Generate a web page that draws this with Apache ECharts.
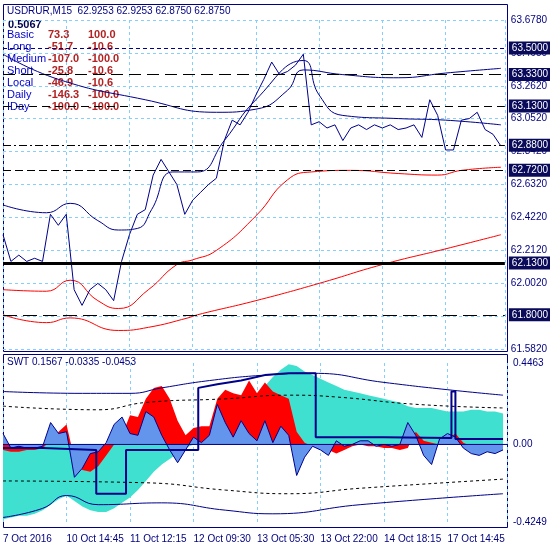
<!DOCTYPE html>
<html>
<head>
<meta charset="utf-8">
<script src="https://cdn.jsdelivr.net/npm/echarts@6/dist/echarts.min.js"></script>
<style>html,body{margin:0;padding:0;background:#fff}#main{width:550px;height:550px}</style>
</head>
<body>
<div id="main"></div>
<script>
// time labels every 8 bars
let timeLabels = ['7 Oct 2016', '10 Oct 14:45', '11 Oct 12:15', '12 Oct 09:30', '13 Oct 05:30', '13 Oct 22:00', '14 Oct 18:15', '17 Oct 14:45']
let priceTicks = ['61.5820', '61.7920', '62.0020', '62.2120', '62.4220', '62.6320', '62.8420', '63.0520', '63.2620', '63.4650', '63.6780']

let price = [62.31, 62.14, 62.18, 62.14, 62.16, 62.14, 62.44, 62.37, 62.44, 61.96, 61.86, 61.96, 62.00, 61.96, 61.89, 62.14,
  62.31, 62.44, 62.47, 62.69, 62.79, 62.71, 62.63, 62.44, 62.53, 62.58, 62.63, 62.67, 62.91, 63.04, 63.01, 63.09,
  63.20, 63.30, 63.41, 63.33, 63.35, 63.39, 63.46, 63.01, 63.03, 62.99, 63.01, 62.91, 62.99, 63.01, 62.98, 63.01,
  62.99, 63.01, 62.98, 62.99, 63.01, 62.93, 63.17, 63.07, 62.85, 62.85, 63.04, 63.05, 63.09, 62.98, 62.95, 62.875]
let maRedFast = [[0, 61.96], [5.5, 61.95], [8.5, 62.02], [12, 61.89], [14.6, 61.84], [18.4, 61.96], [22, 62.12], [24, 62.15], [27, 62.21], [32, 62.43], [36, 62.66], [39, 62.71], [44, 62.72], [50, 62.70], [55, 62.69], [58, 62.72], [63, 62.74]]
let maRedSlow = [[0, 61.80], [5.5, 61.75], [8.5, 61.78], [14.6, 61.70], [18.4, 61.72], [23.4, 61.78], [24.6, 61.80], [32, 61.89], [40, 62.00], [48, 62.12], [56, 62.22], [63, 62.31]]
let maBlueSlow = [[0, 63.46], [7, 63.30], [18, 63.17], [27, 63.09], [32, 63.11], [36, 63.23], [38, 63.36], [43, 63.33], [50, 63.31], [56, 63.34], [63, 63.37]]
let maBlueFast = [[0, 62.50], [5.5, 62.45], [8.5, 62.51], [12, 62.40], [14.6, 62.34], [17, 62.35], [18.8, 62.47], [21.5, 62.71], [24.6, 62.71], [28, 62.91], [32, 63.17], [38, 63.42], [40, 63.20], [43, 63.07], [50, 63.05], [56, 63.04], [63, 63.01]]
let levels = [
  [63.50, '#00008b', [4, 3], 1],
  [63.33, '#000', [12, 6], 1],
  [63.13, '#000', [8, 5], 1],
  [62.88, '#000', [8, 3, 2, 3], 1],
  [62.72, '#000', [8, 4], 1],
  [62.13, '#000', 'solid', 3],
  [61.80, '#000', [14, 6], 1]
]

let swtRed = [-0.03, -0.04, -0.04, -0.03, -0.03, -0.02, 0.02, 0.07, 0.11, -0.08, -0.14, -0.15, -0.12, -0.06, 0.00, 0.05,
  0.16, 0.15, 0.25, 0.31, 0.32, 0.25, 0.13, 0.05, 0.09, 0.10, 0.10, 0.25, 0.30, 0.28, 0.27, 0.35,
  0.28, 0.34, 0.29, 0.27, 0.25, 0.07, 0.01, -0.01, -0.02, -0.03, -0.05, -0.03, -0.01, 0.00, -0.01, -0.01,
  -0.02, -0.02, -0.03, -0.02, 0.07, 0.02, 0.01, 0.00, 0.03, 0.06, 0.01, -0.01, -0.01, -0.02, -0.02, -0.02]
let swtBlue = [0.06, -0.02, -0.01, -0.02, -0.02, -0.01, 0.12, 0.06, 0.07, -0.18, -0.13, -0.05, -0.04, 0.01, 0.11, 0.15,
  0.06, 0.05, 0.18, 0.15, 0.05, -0.03, -0.10, -0.03, 0.04, 0.01, 0.05, 0.22, 0.12, 0.04, 0.13, 0.06,
  0.02, 0.13, 0.01, 0.10, 0.05, -0.17, -0.07, -0.01, -0.03, -0.06, 0.02, -0.01, 0.00, 0.02, 0.02, -0.01,
  0.00, -0.01, 0.00, 0.12, 0.05, -0.06, -0.11, 0.03, 0.06, 0.04, -0.02, -0.05, -0.06, -0.04, -0.05, -0.03]
let swtCyan = [-0.41, -0.40, -0.39, -0.39, -0.38, -0.36, -0.33, -0.30, -0.28, -0.31, -0.34, -0.36, -0.37, -0.37, -0.35, -0.32,
  -0.29, -0.25, -0.20, -0.15, -0.11, -0.08, -0.05, -0.02, 0.00, 0.02, 0.04, 0.09, 0.13, 0.17, 0.21, 0.25,
  0.28, 0.32, 0.37, 0.41, 0.44, 0.43, 0.40, 0.38, 0.36, 0.34, 0.32, 0.30, 0.29, 0.28, 0.27, 0.26,
  0.25, 0.24, 0.23, 0.21, 0.20, 0.20, 0.20, 0.19, 0.18, 0.18, 0.18, 0.19, 0.19, 0.18, 0.18, 0.17]
let swtStep = [[0, -0.02], [5, -0.02], [5, -0.03], [11.75, -0.03], [11.75, -0.27], [15.5, -0.27], [15.5, -0.03], [24.6, -0.03],
  [24.6, 0.31], [27, 0.33], [30, 0.35], [33, 0.38], [36, 0.39], [39.4, 0.39], [39.4, 0.04], [48, 0.04], [48, 0.035],
  [56.5, 0.035], [56.5, 0.29], [57, 0.29], [57, 0.03], [63, 0.03]]
let upperDash = [[0, 0.21], [12, 0.19], [18, 0.23], [28, 0.25], [36, 0.27], [42, 0.26], [52, 0.22], [63, 0.20]]
let lowerDash = [[0, -0.20], [18, -0.21], [28, -0.25], [36, -0.27], [45, -0.24], [63, -0.19]]
let upperSolid = [[0, 0.29], [10, 0.28], [16, 0.28], [20, 0.31], [26, 0.35], [33, 0.38], [39, 0.39], [48, 0.34], [56, 0.30], [63, 0.27]]
let lowerSolid = [[0, -0.40], [5, -0.35], [8, -0.28], [12, -0.33], [20, -0.32], [28, -0.36], [34, -0.38], [45, -0.33], [63, -0.27]]
let swtTicks = [-0.4249, 0, 0.4463]

const navy = '#000080'
const gridCol = '#87cefa'
const font = 'Liberation Sans'

function idx(arr) {
  return arr.map((v, i) => [i, v])
}

function lineS(data, color, width, type, xi, smooth) {
  return {
    type: 'line', data: data, xAxisIndex: xi, yAxisIndex: xi, symbol: 'none', smooth: smooth || false,
    silent: true, animation: false,
    lineStyle: { color: color, width: width, type: type || 'solid' }
  }
}

function areaS(data, color, lineColor) {
  return {
    type: 'line', data: idx(data), xAxisIndex: 1, yAxisIndex: 1, symbol: 'none', silent: true, animation: false,
    lineStyle: { color: lineColor, width: lineColor == 'none' ? 0 : 1 },
    areaStyle: { color: color, opacity: 1, origin: 0 }
  }
}

let xAxisBase = {
  type: 'value', min: 0, max: 63.5, interval: 8,
  axisLine: { show: false }, axisTick: { show: false },
  splitLine: { show: true, lineStyle: { color: gridCol, type: [3, 3] } }
}

let priceSeries = lineS(idx(price), '#00008b', 1, 'solid', 0)
priceSeries.markLine = {
  symbol: 'none', silent: true, animation: false,
  data: levels.map(l => ({
    yAxis: l[0],
    lineStyle: { color: l[1], type: l[2], width: l[3] },
    label: {
      show: true, position: 'end', distance: 4, formatter: l[0].toFixed(4),
      color: '#fff', backgroundColor: '#0a0a5a', padding: [2, 3, 1, 3], fontSize: 10, fontFamily: font
    }
  }))
}

let option = {
  backgroundColor: '#fff',
  grid: [
    { left: 3, right: 43, top: 20, bottom: 201 },
    { left: 3, right: 43, top: 363, bottom: 28 }
  ],
  xAxis: [
    Object.assign({}, xAxisBase, { gridIndex: 0, axisLabel: { show: false } }),
    Object.assign({}, xAxisBase, {
      gridIndex: 1,
      axisLabel: {
        show: true, align: 'left', margin: 12, color: navy, fontSize: 10, fontFamily: font,
        formatter: v => timeLabels[Math.round(v / 8)] || ''
      }
    })
  ],
  yAxis: [
    {
      type: 'value', gridIndex: 0, position: 'right', min: 61.582, max: 63.678, interval: 0.2096,
      axisLine: { show: false }, axisTick: { show: false },
      axisLabel: {
        color: navy, fontSize: 10, fontFamily: font, margin: 6,
        formatter: v => priceTicks[Math.round((v - 61.582) / 0.2096)] || ''
      },
      splitLine: { show: true, lineStyle: { color: gridCol, type: [3, 3] } }
    },
    {
      type: 'value', gridIndex: 1, position: 'right', min: -0.4249, max: 0.4463,
      axisLine: { show: false }, axisTick: { show: false },
      axisLabel: {
        color: navy, fontSize: 10, fontFamily: font, margin: 6, customValues: swtTicks,
        formatter: v => v == 0 ? '0.00' : v.toFixed(4)
      },
      splitLine: { show: false }
    }
  ],
  series: [
    lineS(maRedSlow, '#ff0000', 1, 'solid', 0, true),
    lineS(maRedFast, '#ff0000', 1, 'solid', 0, true),
    lineS(maBlueSlow, '#00008b', 1, 'solid', 0, true),
    lineS(maBlueFast, '#00008b', 1, 'solid', 0, true),
    priceSeries,
    areaS(swtCyan, '#40e0d0', 'none'),
    areaS(swtRed, '#ff0000', 'none'),
    areaS(swtBlue, '#6495ed', '#00008b'),
    lineS(upperDash, '#000', 1, [3, 3], 1, true),
    lineS(lowerDash, '#000', 1, [3, 3], 1, true),
    lineS(upperSolid, '#00008b', 1, 'solid', 1, true),
    lineS(lowerSolid, '#00008b', 1, 'solid', 1, true),
    lineS([[0, 0], [63.5, 0]], '#00008b', 1, 'solid', 1),
    lineS(swtStep, '#00008b', 2, 'solid', 1)
  ],
  graphic: [
    { type: 'rect', shape: { x: 3.5, y: 4.5, width: 504, height: 347 }, style: { fill: 'none', stroke: navy, lineWidth: 1 }, silent: true },
    { type: 'rect', shape: { x: 3.5, y: 354.5, width: 504, height: 173 }, style: { fill: 'none', stroke: navy, lineWidth: 1 }, silent: true },
    { type: 'text', left: 7, top: 6, style: { text: 'USDRUR,M15  62.9253 62.9253 62.8750 62.8750', fill: navy, font: '10px ' + font } },
    { type: 'text', left: 8, top: 19, style: { text: '0.5067', fill: '#000050', font: 'bold 11px ' + font } },
    { type: 'text', left: 7, top: 357, style: { text: 'SWT 0.1567 -0.0335 -0.0453', fill: navy, font: '10px ' + font } }
  ]
}

let rows = [['Basic', '73.3', '100.0'], ['Long', '-51.7', '-10.6'], ['Medium', '-107.0', '-100.0'], ['Short', '-25.8', '-10.6'],
  ['Local', '-46.9', '-10.6'], ['Daily', '-146.3', '-100.0'], ['IDay', '-100.0', '-100.0']]
rows.forEach((r, i) => {
  let y = 29 + i * 12
  option.graphic.push({ type: 'text', left: 7, top: y, style: { text: r[0], fill: '#0000cd', font: '11px ' + font } })
  option.graphic.push({ type: 'text', left: 48, top: y, style: { text: r[1], fill: '#b22222', font: 'bold 11px ' + font } })
  option.graphic.push({ type: 'text', left: 88, top: y, style: { text: r[2], fill: '#b22222', font: 'bold 11px ' + font } })
})

const chart = echarts.init(document.getElementById('main'))
chart.setOption(option)
</script>
</body>
</html>
